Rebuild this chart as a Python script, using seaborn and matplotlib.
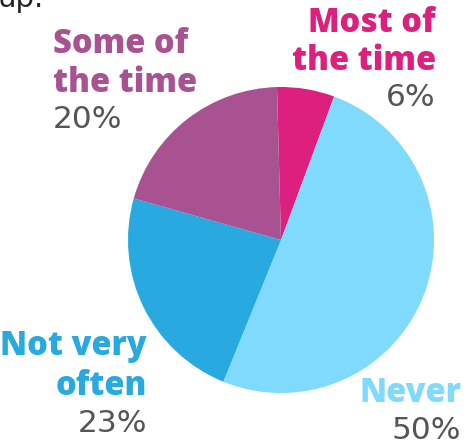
import matplotlib
matplotlib.use("Agg")
import matplotlib.pyplot as plt
import seaborn as sns

sns.set_theme(style="white")

# Survey answers, clockwise from 12 o'clock
categories = ["Most of the time", "Never", "Not very often", "Some of the time"]
label_lines = [["Most of", "the time"], ["Never"], ["Not very", "often"], ["Some of", "the time"]]
shares = [6, 50, 23, 20]
pct_labels = ["6%", "50%", "23%", "20%"]
colors = ["#DD1F7E", "#80DAFE", "#28A9E0", "#A95292"]

W, H = 467, 445
fig = plt.figure(figsize=(W / 100, H / 100), dpi=100)
fig.patch.set_facecolor("white")

# Pie axes, sized and placed in pixel units
cx, cy, r = 281, 240, 153
pie_ax = fig.add_axes([(cx - r) / W, (H - cy - r) / H, 2 * r / W, 2 * r / H])
pie_ax.pie(shares, colors=colors, startangle=91.5, counterclock=False,
           wedgeprops=dict(linewidth=0))
pie_ax.set_xlim(-1, 1)
pie_ax.set_ylim(-1, 1)
pie_ax.set_aspect("equal")
pie_ax.axis("off")

# Overlay axes in pixel coordinates for the annotations
txt = fig.add_axes([0, 0, 1, 1], facecolor="none")
txt.set_xlim(0, W)
txt.set_ylim(H, 0)
txt.axis("off")

head_font = dict(family="Open Sans", weight="heavy", fontsize=23.5)
pct_font = dict(family="DejaVu Sans", weight="normal", fontsize=22.5, color="#555555")

# (anchor x, alignment, baselines of name lines, baseline of percentage)
placements = [
    (436, "right", [32, 70], 106),
    (461, "right", [402], 439),
    (147, "right", [355, 395], 432),
    (53, "left", [53, 92], 128),
]

for lines, pct, col, (x, ha, ys, py) in zip(label_lines, pct_labels, colors, placements):
    for line, y in zip(lines, ys):
        txt.text(x, y, line, ha=ha, va="baseline", color=col, **head_font)
    txt.text(x, py, pct, ha=ha, va="baseline", **pct_font)

# Tail of the preceding sentence, clipped by the top edge
txt.text(-2, 7, "up.", ha="left", va="baseline", color="#222222",
         family="DejaVu Sans", fontsize=21)

fig.savefig("out.png", dpi=100, facecolor="white")
